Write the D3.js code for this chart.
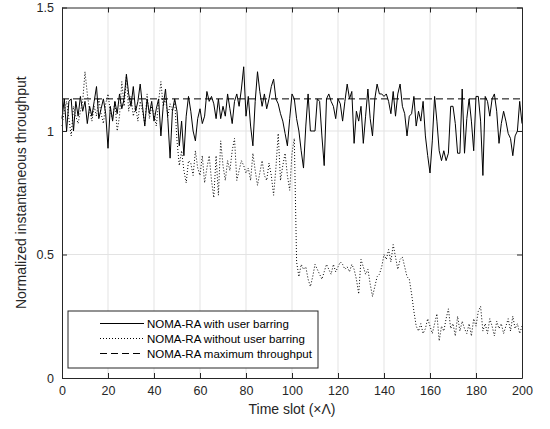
<!DOCTYPE html>
<html>
<head>
<meta charset="utf-8">
<script src="https://cdn.jsdelivr.net/npm/d3@7"></script>
<style>
  body { margin: 0; background: #fff; }
  svg { display: block; font-family: "Liberation Sans", Arial, sans-serif; }
</style>
</head>
<body>
<svg id="chart" width="550" height="429"></svg>
<script>
// values, time slot 0..200
const withBarring = [
  1.05, 1.13, 1.00, 1.12, 1.13, 1.00, 1.12, 1.06, 1.14, 1.08,
  1.12, 1.03, 1.10, 1.06, 1.12, 1.18, 1.05, 1.09, 1.13, 1.07,
  0.93, 1.10, 1.04, 1.12, 1.07, 1.15, 1.09, 1.13, 1.23, 1.15,
  1.10, 1.18, 1.08, 1.12, 1.19, 1.10, 1.02, 1.13, 1.07, 1.12,
  1.04, 1.09, 1.13, 0.98, 1.10, 1.17, 1.05, 0.89, 1.08, 1.13,
  1.08, 0.94, 1.04, 0.90, 1.06, 1.14, 1.08, 1.00, 0.96, 1.05,
  1.09, 1.03, 1.06, 1.16, 1.12, 1.14, 1.11, 1.05, 1.13, 1.05,
  1.10, 1.06, 1.15, 1.09, 1.03, 1.12, 1.15, 1.10, 1.17, 1.26,
  1.06, 1.14, 1.02, 0.94, 1.12, 1.24, 1.16, 1.10, 1.15, 1.09,
  1.13, 1.18, 1.21, 1.13, 1.11, 1.07, 1.04, 0.99, 0.94, 1.05,
  1.15, 1.13, 1.05, 1.00, 0.92, 0.85, 1.02, 1.15, 1.00, 1.00,
  1.00, 1.13, 1.12, 0.98, 0.86, 1.13, 1.15, 1.12, 1.10, 1.05,
  1.13, 1.11, 1.04, 1.12, 1.19, 1.13, 1.16, 0.95, 1.08, 1.04,
  1.10, 0.95, 1.06, 1.17, 1.05, 0.98, 1.13, 1.19, 1.15, 1.15,
  1.14, 1.15, 1.12, 1.07, 1.16, 1.06, 1.15, 1.19, 1.10, 1.07,
  0.98, 1.06, 1.07, 1.14, 1.02, 1.08, 1.04, 1.12, 0.98, 0.90,
  0.83, 0.96, 1.14, 1.04, 0.92, 0.88, 0.92, 0.88, 0.91, 1.10,
  1.10, 1.03, 0.91, 0.91, 1.17, 0.91, 1.05, 1.13, 1.04, 0.92,
  1.14, 1.14, 1.04, 0.82, 1.14, 1.12, 1.06, 1.13, 1.15, 1.08,
  0.95, 1.03, 1.08, 1.04, 0.99, 0.97, 0.90, 0.98, 1.00, 1.12,
  1.03
];

const withoutBarring = [
  1.02, 1.08, 1.12, 1.05, 0.98, 1.10, 1.06, 1.03, 1.08, 1.12,
  1.24, 1.15, 1.08, 1.04, 1.10, 1.06, 1.13, 1.07, 1.03, 1.11,
  1.15, 1.08, 1.05, 1.12, 1.00, 1.06, 1.20, 1.10, 1.22, 1.08,
  1.14, 1.06, 1.10, 1.04, 1.12, 1.08, 1.03, 1.15, 1.05, 1.10,
  1.07, 1.02, 1.12, 1.20, 1.10, 1.13, 1.06, 1.11, 1.08, 1.12,
  0.96, 0.86, 0.92, 0.84, 0.79, 0.88, 0.87, 0.82, 0.92, 0.85,
  0.82, 0.90, 0.79, 0.85, 0.90, 0.80, 0.73, 0.90, 0.74, 0.96,
  0.86, 0.80, 0.88, 0.84, 0.92, 0.97, 0.80, 0.84, 0.88, 0.86,
  0.83, 0.85, 0.80, 0.91, 0.84, 0.78, 0.83, 0.88, 0.82, 0.80,
  0.87, 0.82, 0.74, 0.85, 0.99, 0.80, 0.86, 0.91, 0.82, 0.76,
  0.91, 0.97, 0.47, 0.41, 0.46, 0.44, 0.45, 0.40, 0.37, 0.41,
  0.46, 0.44, 0.42, 0.40, 0.43, 0.46, 0.44, 0.42, 0.46, 0.43,
  0.45, 0.47, 0.46, 0.44, 0.45, 0.43, 0.46, 0.44, 0.40, 0.34,
  0.48, 0.45, 0.42, 0.44, 0.38, 0.33, 0.37, 0.41, 0.42, 0.45,
  0.50, 0.48, 0.52, 0.47, 0.54, 0.49, 0.44, 0.48, 0.49, 0.45,
  0.41, 0.40, 0.34, 0.27, 0.21, 0.19, 0.22, 0.18, 0.20, 0.24,
  0.21, 0.18, 0.22, 0.26, 0.15, 0.21, 0.19, 0.24, 0.28, 0.20,
  0.22, 0.17, 0.25, 0.19, 0.23, 0.20, 0.18, 0.22, 0.17, 0.24,
  0.21, 0.27, 0.29, 0.19, 0.22, 0.18, 0.24, 0.21, 0.17, 0.23,
  0.20, 0.22, 0.18, 0.21, 0.24, 0.19, 0.25, 0.20, 0.22, 0.18,
  0.21
];

const maxThroughput = 1.13;

const xTicks = [0, 20, 40, 60, 80, 100, 120, 140, 160, 180, 200];
const yTicks = [0, 0.5, 1, 1.5];

const legendLabels = [
  "NOMA-RA with user barring",
  "NOMA-RA without user barring",
  "NOMA-RA maximum throughput"
];

const svg = d3.select("#chart");
const margin = { top: 7.5, right: 28, bottom: 51, left: 62 };
const W = 550, H = 429;

const x = d3.scaleLinear().domain([0, 200]).range([margin.left, W - margin.right]);
const y = d3.scaleLinear().domain([0, 1.5]).range([H - margin.bottom, margin.top]);

const axisColor = "#262626";

// grid
svg.append("g")
  .selectAll("line.gx")
  .data(xTicks.slice(1, -1))
  .join("line")
    .attr("x1", d => x(d)).attr("x2", d => x(d))
    .attr("y1", y(0)).attr("y2", y(1.5))
    .attr("stroke", "#e3e3e3").attr("stroke-width", 1);

svg.append("g")
  .selectAll("line.gy")
  .data(yTicks.slice(1, -1))
  .join("line")
    .attr("x1", x(0)).attr("x2", x(200))
    .attr("y1", d => y(d)).attr("y2", d => y(d))
    .attr("stroke", "#e3e3e3").attr("stroke-width", 1);

const line = d3.line()
  .x((d, i) => x(i))
  .y(d => y(d));

const plot = svg.append("g");

plot.append("path")
  .datum(withoutBarring)
  .attr("fill", "none")
  .attr("stroke", "#000")
  .attr("stroke-width", 1)
  .attr("stroke-dasharray", "1,2")
  .attr("d", line);

plot.append("path")
  .datum(withBarring)
  .attr("fill", "none")
  .attr("stroke", "#000")
  .attr("stroke-width", 1)
  .attr("d", line);

plot.append("line")
  .attr("x1", x(0)).attr("x2", x(200))
  .attr("y1", y(maxThroughput)).attr("y2", y(maxThroughput))
  .attr("stroke", "#000")
  .attr("stroke-width", 1)
  .attr("stroke-dasharray", "7,4");

// axes, ticks inward like matlab
const xAxis = d3.axisBottom(x).tickValues(xTicks).tickSizeInner(-5).tickSizeOuter(0).tickPadding(8);
const yAxis = d3.axisLeft(y).tickValues(yTicks).tickSizeInner(-5).tickSizeOuter(0).tickPadding(8)
  .tickFormat(d3.format("~g"));

svg.append("g")
  .attr("transform", `translate(0,${y(0)})`)
  .call(xAxis)
  .call(g => g.selectAll("line,path").attr("stroke", axisColor))
  .call(g => g.selectAll("text").attr("fill", axisColor).attr("font-size", 12.5)
    .attr("font-family", "Liberation Sans, Arial, sans-serif"));

svg.append("g")
  .attr("transform", `translate(${x(0)},0)`)
  .call(yAxis)
  .call(g => g.selectAll("line,path").attr("stroke", axisColor))
  .call(g => g.selectAll("text").attr("fill", axisColor).attr("font-size", 12.5)
    .attr("font-family", "Liberation Sans, Arial, sans-serif"));

// top and right sides of the box, with ticks
svg.append("g")
  .attr("transform", `translate(0,${y(1.5)})`)
  .call(d3.axisTop(x).tickValues(xTicks).tickSizeInner(-5).tickSizeOuter(0).tickFormat(""))
  .call(g => g.selectAll("line,path").attr("stroke", axisColor));

svg.append("g")
  .attr("transform", `translate(${x(200)},0)`)
  .call(d3.axisRight(y).tickValues(yTicks).tickSizeInner(-5).tickSizeOuter(0).tickFormat(""))
  .call(g => g.selectAll("line,path").attr("stroke", axisColor));

// axis labels
svg.append("text")
  .attr("x", (x(0) + x(200)) / 2)
  .attr("y", 414)
  .attr("text-anchor", "middle")
  .attr("font-size", 14)
  .attr("fill", axisColor)
  .text("Time slot (\u00d7\u039b)");

svg.append("text")
  .attr("transform", `translate(26,${(y(0) + y(1.5)) / 2}) rotate(-90)`)
  .attr("text-anchor", "middle")
  .attr("font-size", 14)
  .attr("fill", axisColor)
  .text("Normalized instantaneous throughput");

// legend
const legend = svg.append("g").attr("transform", "translate(68,311)");
legend.append("rect")
  .attr("width", 250).attr("height", 57)
  .attr("fill", "#fff")
  .attr("stroke", axisColor)
  .attr("stroke-width", 1);

const dashes = [null, "1,2", "7,4"];
legendLabels.forEach((lab, i) => {
  const ly = 12.5 + i * 15;
  legend.append("line")
    .attr("x1", 32).attr("x2", 76)
    .attr("y1", ly).attr("y2", ly)
    .attr("stroke", "#000")
    .attr("stroke-width", 1)
    .attr("stroke-dasharray", dashes[i]);
  legend.append("text")
    .attr("x", 79).attr("y", ly + 4)
    .attr("font-size", 11.5)
    .attr("fill", "#000")
    .text(lab);
});
</script>
</body>
</html>
